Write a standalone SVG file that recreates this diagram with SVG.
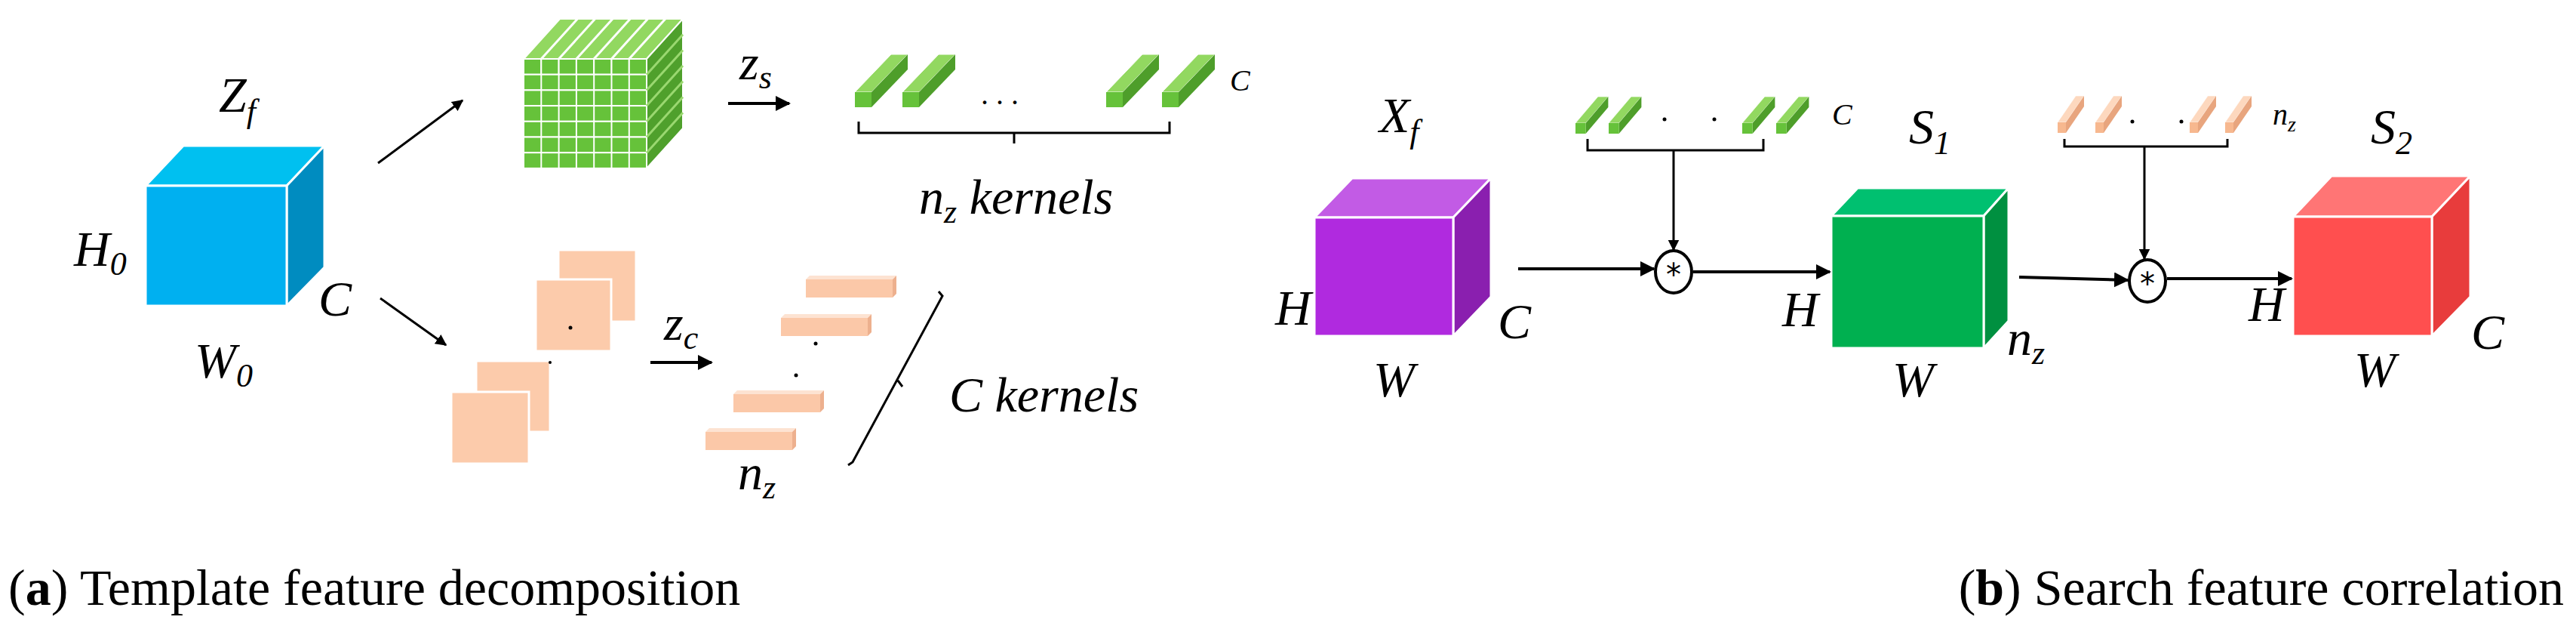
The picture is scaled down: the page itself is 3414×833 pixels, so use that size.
<svg xmlns="http://www.w3.org/2000/svg" xmlns:xlink="http://www.w3.org/1999/xlink" width="3414" height="833" viewBox="0 0 3414 833">
<style>
.m{font-family:"Liberation Serif","DejaVu Serif",serif;font-style:italic;font-size:66px;fill:#000}
.s{font-size:44px}
.sm{font-family:"Liberation Serif",serif;font-style:italic;font-size:40px;fill:#000}
.cap{font-family:"Liberation Serif","DejaVu Serif",serif;font-size:68px;fill:#000}
.ln{stroke:#000;stroke-width:4;fill:none}
.th{stroke:#000;stroke-width:3;fill:none}
.ed{stroke:#fff;stroke-width:3}
</style>
<defs>
<marker id="ah" viewBox="0 0 10 10" refX="9" refY="5" markerWidth="5" markerHeight="5" orient="auto"><path d="M0,0L10,5L0,10z" fill="#000"/></marker>
<g id="gbar"><polygon points="0,0 48,-50 70,-50 22,0" fill="#92D860" stroke="#fff" stroke-width="1"/><polygon points="22,0 70,-50 70,-30 22,20" fill="#4E9E2A"/><rect x="0" y="0" width="22" height="20" fill="#66C23A"/></g>
<g id="pbar"><polygon points="0,0 48,-50 70,-50 22,0" fill="#FDD8BE" stroke="#fff" stroke-width="1"/><polygon points="22,0 70,-50 70,-30 22,20" fill="#E8A57E"/><rect x="0" y="0" width="22" height="20" fill="#F7B88F"/></g>
<g id="lbar"><polygon points="0,5 5,0 120,0 115,5" fill="#FDE3D2"/><rect x="0" y="5" width="115" height="24" fill="#FBC8A8"/><polygon points="115,5 120,0 120,24 115,29" fill="#EDB08E"/></g>
</defs>

<g id="cube-zf">
<polygon class="ed" points="193,246 243,193 430,193 380,246" fill="#00C0F0"/>
<polygon class="ed" points="380,246 430,193 430,354 380,405" fill="#008CC0"/>
<rect class="ed" x="193" y="246" width="187" height="159" fill="#00B0F0"/>
<text class="m" x="290" y="148">Z<tspan class="s" dy="14">f</tspan></text>
<text class="m" x="98" y="352">H<tspan class="s" dy="12">0</tspan></text>
<text class="m" x="422" y="418">C</text>
<text class="m" x="258" y="500">W<tspan class="s" dy="12">0</tspan></text>
</g>

<g id="grid-cube">
<g fill="#66C23A" stroke="#fff" stroke-width="2">
<rect x="694" y="78" width="23.3" height="20.7"/><rect x="717.3" y="78" width="23.3" height="20.7"/><rect x="740.6" y="78" width="23.3" height="20.7"/><rect x="763.9" y="78" width="23.3" height="20.7"/><rect x="787.2" y="78" width="23.3" height="20.7"/><rect x="810.5" y="78" width="23.3" height="20.7"/><rect x="833.8" y="78" width="23.3" height="20.7"/>
</g>
<use xlink:href="#gridrow" y="0"/>
<g id="gridrows" fill="#66C23A" stroke="#fff" stroke-width="2">
<rect x="694" y="98.7" width="163" height="20.7"/><rect x="694" y="119.4" width="163" height="20.7"/><rect x="694" y="140.1" width="163" height="20.7"/><rect x="694" y="160.8" width="163" height="20.7"/><rect x="694" y="181.5" width="163" height="20.7"/><rect x="694" y="202.2" width="163" height="20.7"/>
</g>
<g stroke="#fff" stroke-width="2">
<line x1="717.3" y1="98" x2="717.3" y2="223"/><line x1="740.6" y1="98" x2="740.6" y2="223"/><line x1="763.9" y1="98" x2="763.9" y2="223"/><line x1="787.2" y1="98" x2="787.2" y2="223"/><line x1="810.5" y1="98" x2="810.5" y2="223"/><line x1="833.8" y1="98" x2="833.8" y2="223"/>
</g>
<polygon points="694,78 742,25 905,25 857,78" fill="#92D860" stroke="#fff" stroke-width="2"/>
<g stroke="#fff" stroke-width="3">
<line x1="717.3" y1="78" x2="765.3" y2="25"/><line x1="740.6" y1="78" x2="788.6" y2="25"/><line x1="763.9" y1="78" x2="811.9" y2="25"/><line x1="787.2" y1="78" x2="835.2" y2="25"/><line x1="810.5" y1="78" x2="858.5" y2="25"/><line x1="833.8" y1="78" x2="881.8" y2="25"/>
</g>
<polygon points="857,78 905,25 905,170 857,223" fill="#4FA02C" stroke="#fff" stroke-width="2"/>
<g stroke="#9AD870" stroke-width="3">
<line x1="857" y1="98.7" x2="905" y2="45.7"/><line x1="857" y1="119.4" x2="905" y2="66.4"/><line x1="857" y1="140.1" x2="905" y2="87.1"/><line x1="857" y1="160.8" x2="905" y2="107.8"/><line x1="857" y1="181.5" x2="905" y2="128.5"/><line x1="857" y1="202.2" x2="905" y2="149.2"/>
</g>
</g>

<g id="zs-kernels">
<text class="m" x="980" y="105">z<tspan class="s" dy="12">s</tspan></text>
<use xlink:href="#gbar" x="1133" y="122"/>
<use xlink:href="#gbar" x="1196" y="122"/>
<use xlink:href="#gbar" x="1466" y="122"/>
<use xlink:href="#gbar" x="1540" y="122"/>
<text class="m" x="1300" y="138" style="font-style:normal;font-size:40px">. . .</text>
<text class="sm" x="1630" y="120">C</text>
<path class="th" d="M1138,161V176H1550V161M1344,176V190"/>
<text class="m" x="1218" y="283">n<tspan class="s" dy="12">z</tspan><tspan dy="-12"> kernels</tspan></text>
</g>

<g id="zc-slices">
<g fill="#FCCBAB" stroke="#fff" stroke-width="3">
<rect x="740" y="331" width="103" height="95"/>
<rect x="710" y="370" width="100" height="95"/>
<rect x="631" y="478" width="98" height="94"/>
<rect x="598" y="519" width="103" height="95"/>
</g>
<circle cx="756" cy="434" r="2.5" fill="#000"/>
<circle cx="729" cy="480" r="2" fill="#000"/>
<text class="m" x="880" y="450">z<tspan class="s" dy="12">c</tspan></text>
<use xlink:href="#lbar" x="1068" y="365"/>
<use xlink:href="#lbar" x="1035" y="416"/>
<use xlink:href="#lbar" x="972" y="517"/>
<use xlink:href="#lbar" x="935" y="567"/>
<circle cx="1081" cy="455" r="2.5" fill="#000"/>
<circle cx="1055" cy="497" r="2.5" fill="#000"/>
<text class="m" x="978" y="648">n<tspan class="s" dy="12">z</tspan></text>
<path class="th" d="M1244,386L1249,392L1130,612L1124,616M1190,504L1196,512"/>
<text class="m" x="1258" y="545">C kernels</text>
</g>

<g id="cube-xf">
<polygon class="ed" points="1742,288 1792,236 1976,236 1926,288" fill="#C25BE5"/>
<polygon class="ed" points="1926,288 1976,236 1976,393 1926,445" fill="#8A1FAF"/>
<rect class="ed" x="1742" y="288" width="184" height="157" fill="#B02ADF"/>
<text class="m" x="1828" y="175">X<tspan class="s" dy="14">f</tspan></text>
<text class="m" x="1690" y="430">H</text>
<text class="m" x="1985" y="448">C</text>
<text class="m" x="1820" y="525">W</text>
</g>

<g id="k1">
<use xlink:href="#gbar" transform="translate(2088,163) scale(0.62,0.7)"/>
<use xlink:href="#gbar" transform="translate(2132,163) scale(0.62,0.7)"/>
<use xlink:href="#gbar" transform="translate(2309,163) scale(0.62,0.7)"/>
<use xlink:href="#gbar" transform="translate(2354,163) scale(0.62,0.7)"/>
<circle cx="2206" cy="158" r="2.5" fill="#000"/><circle cx="2272" cy="158" r="2.5" fill="#000"/>
<text class="sm" x="2428" y="165">C</text>
<path class="th" d="M2104,184V199H2337V184"/>
</g>

<g id="k2">
<use xlink:href="#pbar" transform="translate(2727,162) scale(0.5,0.7)"/>
<use xlink:href="#pbar" transform="translate(2777,162) scale(0.5,0.7)"/>
<use xlink:href="#pbar" transform="translate(2902,162) scale(0.5,0.7)"/>
<use xlink:href="#pbar" transform="translate(2949,162) scale(0.5,0.7)"/>
<circle cx="2826" cy="161" r="2.5" fill="#000"/><circle cx="2891" cy="161" r="2.5" fill="#000"/>
<text class="sm" x="3012" y="165">n<tspan style="font-size:28px" dy="9">z</tspan></text>
<path class="th" d="M2736,184V194H2952V184"/>
</g>

<g id="conv1">
<ellipse cx="2218" cy="360" rx="24" ry="28" fill="#fff" stroke="#000" stroke-width="4"/>
<text x="2218" y="378" text-anchor="middle" style="font-family:'DejaVu Sans',sans-serif;font-size:40px">*</text>
</g>
<g id="conv2">
<ellipse cx="2846" cy="372" rx="24" ry="28" fill="#fff" stroke="#000" stroke-width="4"/>
<text x="2846" y="390" text-anchor="middle" style="font-family:'DejaVu Sans',sans-serif;font-size:40px">*</text>
</g>

<g id="cube-s1">
<polygon class="ed" points="2427,286 2462,249 2662,249 2629,286" fill="#00C070"/>
<polygon class="ed" points="2629,286 2662,249 2662,425 2629,461" fill="#009040"/>
<rect class="ed" x="2427" y="286" width="202" height="175" fill="#00B050"/>
<text class="m" x="2530" y="190">S<tspan class="s" dy="14">1</tspan></text>
<text class="m" x="2362" y="432">H</text>
<text class="m" x="2660" y="470">n<tspan class="s" dy="12">z</tspan></text>
<text class="m" x="2508" y="525">W</text>
</g>

<g id="cube-s2">
<polygon class="ed" points="3039,287 3090,233 3274,233 3223,287" fill="#FF7575"/>
<polygon class="ed" points="3223,287 3274,233 3274,393 3223,445" fill="#E83C3C"/>
<rect class="ed" x="3039" y="287" width="184" height="158" fill="#FF4F4F"/>
<text class="m" x="3142" y="190">S<tspan class="s" dy="14">2</tspan></text>
<text class="m" x="2980" y="425">H</text>
<text class="m" x="3275" y="462">C</text>
<text class="m" x="3120" y="512">W</text>
</g>

<g id="connectors">
<line class="th" x1="501" y1="216" x2="613" y2="133" marker-end="url(#ah)"/>
<line class="th" x1="504" y1="395" x2="591" y2="457" marker-end="url(#ah)"/>
<line class="ln" x1="965" y1="137" x2="1046" y2="137" marker-end="url(#ah)"/>
<line class="ln" x1="862" y1="480" x2="943" y2="480" marker-end="url(#ah)"/>
<line class="th" x1="2218" y1="199" x2="2218" y2="331" marker-end="url(#ah)"/>
<line class="th" x1="2842" y1="194" x2="2842" y2="343" marker-end="url(#ah)"/>
<line class="ln" x1="2012" y1="356" x2="2192" y2="356" marker-end="url(#ah)"/>
<line class="ln" x1="2244" y1="360" x2="2425" y2="360" marker-end="url(#ah)"/>
<line class="ln" x1="2676" y1="367" x2="2820" y2="371" marker-end="url(#ah)"/>
<line class="ln" x1="2872" y1="369" x2="3037" y2="369" marker-end="url(#ah)"/>
</g>

<g id="captions">
<text class="cap" x="11" y="801">(<tspan font-weight="bold">a</tspan>) Template feature decomposition</text>
<text class="cap" x="3398" y="801" text-anchor="end">(<tspan font-weight="bold">b</tspan>) Search feature correlation</text>
</g>
</svg>
